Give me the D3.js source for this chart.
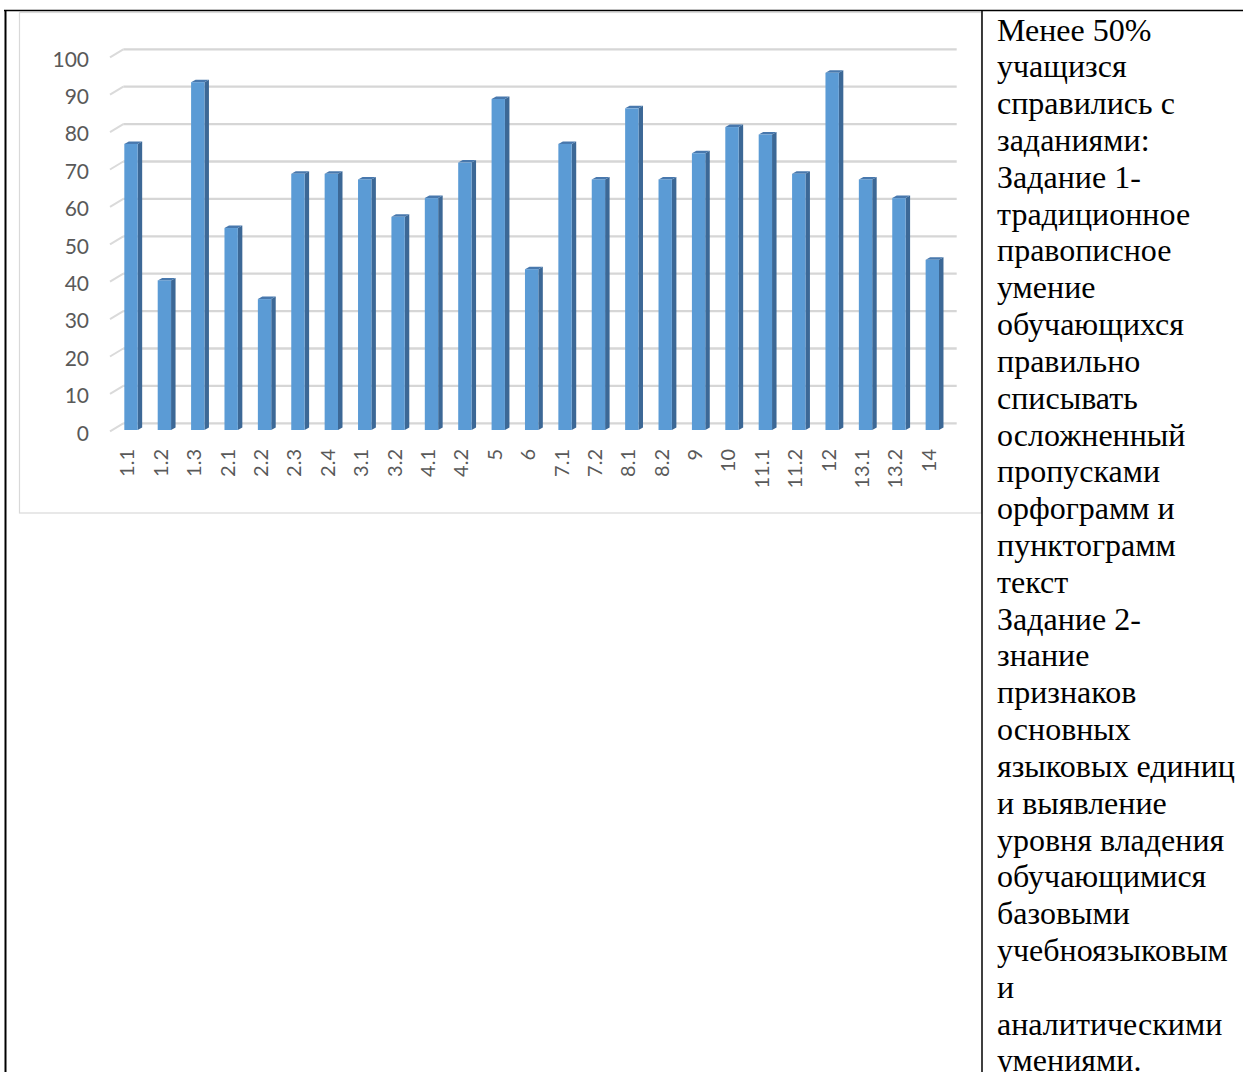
<!DOCTYPE html>
<html>
<head>
<meta charset="utf-8">
<script src="https://cdn.jsdelivr.net/npm/d3@7"></script>
<style>
  html, body { margin: 0; padding: 0; background: #fff; }
  svg { display: block; }
</style>
</head>
<body>
<svg id="chart" width="1243" height="1072"></svg>
<script>
// ---- data ----
const categories = ["1.1","1.2","1.3","2.1","2.2","2.3","2.4","3.1","3.2","4.1","4.2","5","6",
                    "7.1","7.2","8.1","8.2","9","10","11.1","11.2","12","13.1","13.2","14"];
const values = [76.5, 40, 93, 54, 35, 68.5, 68.5, 67, 57, 62, 71.5, 88.5, 43,
                76.5, 67, 86, 67, 74, 81, 79, 68.5, 95.5, 67, 62, 45.5];
const yTicks = [0, 10, 20, 30, 40, 50, 60, 70, 80, 90, 100];
const noteLines = [
  "Менее 50%",
  "учащизся",
  "справились с",
  "заданиями:",
  "Задание 1-",
  "традиционное",
  "правописное",
  "умение",
  "обучающихся",
  "правильно",
  "списывать",
  "осложненный",
  "пропусками",
  "орфограмм и",
  "пунктограмм",
  "текст",
  "Задание 2-",
  "знание",
  "признаков",
  "основных",
  "языковых единиц",
  "и выявление",
  "уровня владения",
  "обучающимися",
  "базовыми",
  "учебноязыковым",
  "и",
  "аналитическими",
  "умениями."
];

// ---- layout ----
const svg = d3.select("#chart");
const W = 1243, H = 1072;

// back-wall value scale
const y = d3.scaleLinear().domain([0, 100]).range([423.3, 49.3]);
// 3D depth offsets
const wallDX = -13.3, wallDY = 8;     // back wall -> front edge of the floor
const barDY = 6.7;                    // bar front face below back wall
const sideDX = 4.5, sideDY = -2.5;    // bar side/top depth

const xBar = d3.scaleBand().domain(categories)
  .range([114.3, 949]).paddingInner(0.6).paddingOuter(0.3);
const gridX0 = 123.3, gridX1 = 956.7;

// chart frame
svg.append("rect")
  .attr("x", 19.5).attr("y", 12.5).attr("width", 962).attr("height", 500.5)
  .attr("fill", "#fff").attr("stroke", "#d9d9d9").attr("stroke-width", 1.2);

// gridlines (back wall + depth diagonal)
const grid = svg.append("g");
yTicks.forEach(t => {
  grid.append("line")
    .attr("x1", gridX0).attr("x2", gridX1)
    .attr("y1", y(t)).attr("y2", y(t))
    .attr("stroke", "#d6d6d6").attr("stroke-width", 2.3);
  grid.append("line")
    .attr("x1", gridX0 + wallDX).attr("y1", y(t) + wallDY)
    .attr("x2", gridX0).attr("y2", y(t))
    .attr("stroke", "#dadada").attr("stroke-width", 2);
});

// y axis labels
const yAxis = d3.axisLeft(y).tickValues(yTicks).tickSize(0).tickPadding(0);
const gy = svg.append("g").attr("transform", `translate(89, ${wallDY + 2})`).call(yAxis);
gy.select(".domain").remove();
gy.selectAll("text")
  .attr("font-family", "Lato, 'Open Sans', sans-serif")
  .attr("font-size", 21).attr("fill", "#595959");

// bars (3D)
const bars = svg.append("g");
const base = y(0) + barDY;
categories.forEach((c, i) => {
  const v = values[i];
  const x0 = xBar(c), bw = xBar.bandwidth();
  const top = y(v) + barDY;
  // side face
  bars.append("path")
    .attr("d", `M${x0 + bw},${base} L${x0 + bw},${top} L${x0 + bw + sideDX},${top + sideDY} L${x0 + bw + sideDX},${base + sideDY} Z`)
    .attr("fill", "#3c6896");
  // top face
  bars.append("path")
    .attr("d", `M${x0},${top} L${x0 + sideDX},${top + sideDY} L${x0 + bw + sideDX},${top + sideDY} L${x0 + bw},${top} Z`)
    .attr("fill", "#4878ad");
  // front face
  bars.append("rect")
    .attr("x", x0).attr("y", top).attr("width", bw).attr("height", base - top)
    .attr("fill", "#5b9bd5");
});

// x axis labels (rotated)
const xAxis = d3.axisBottom(xBar).tickSize(0).tickPadding(0);
const gx = svg.append("g").attr("transform", `translate(-3.5, 449)`).call(xAxis);
gx.select(".domain").remove();
gx.selectAll("text")
  .attr("font-family", "Lato, 'Open Sans', sans-serif")
  .attr("font-size", 20).attr("fill", "#595959")
  .attr("text-anchor", "end")
  .attr("transform", "rotate(-90)")
  .attr("x", 0).attr("y", 0).attr("dy", "0.35em");

// table borders
const border = svg.append("g").attr("stroke", "#000");
border.append("line").attr("x1", 4).attr("x2", W).attr("y1", 10.5).attr("y2", 10.5).attr("stroke-width", 1.6);
border.append("line").attr("x1", 5.5).attr("x2", 5.5).attr("y1", 10).attr("y2", H).attr("stroke-width", 2);
border.append("line").attr("x1", 982).attr("x2", 982).attr("y1", 10).attr("y2", H).attr("stroke-width", 1.5);

// right-hand text column
const note = svg.append("text")
  .attr("font-family", "'Liberation Serif', 'Times New Roman', serif")
  .attr("font-size", 32).attr("fill", "#000");
noteLines.forEach((line, i) => {
  note.append("tspan").attr("x", 997).attr("y", 40.5 + i * 36.82).text(line);
});
</script>
</body>
</html>
